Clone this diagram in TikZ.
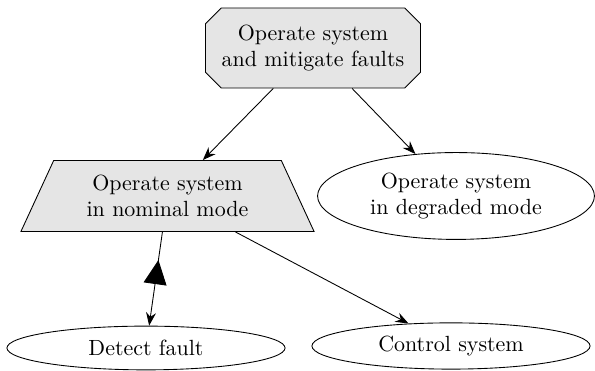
\documentclass[tikz,border=0pt]{standalone}
\usepackage{tikz}
\usetikzlibrary{shapes.misc,shapes.geometric,arrows.meta,decorations.markings}

\begin{document}
\begin{tikzpicture}
 	\tikzstyle{task}=[draw=black, fill=gray!20, align=center, font=\normalsize]
 	\tikzstyle{usecase}=[ellipse, draw=black, align=center, inner sep=0pt]
 	\tikzstyle{connect}=[-{Stealth[length=6pt,width=4.5pt,inset=2pt]}]
 	\tikzstyle{include}=[postaction=decorate, decoration={markings, mark=at position 0.3 with {\arrowreversed{Triangle[length=11pt,width=10.5pt]}}}]
 	\useasboundingbox (0,0) rectangle (9.52,5.936);
 	\node[task, chamfered rectangle, chamfered rectangle xsep=3.6pt, chamfered rectangle ysep=3.6pt, minimum width=3.44cm, minimum height=1.28cm] (mission) at (5.008,5.168) {Operate system\\and mitigate faults};
 	\node[task, trapezium, trapezium left angle=60, trapezium right angle=60, trapezium stretches body, minimum width=4.69cm, minimum height=1.136cm] (nominal) at (2.68,2.8) {Operate system\\in nominal mode};
 	\node[usecase, minimum width=4.43cm, minimum height=1.39cm] (degraded) at (7.296,2.8) {Operate system\\in degraded mode};
 	\node[usecase, minimum width=4.45cm, minimum height=0.70cm] (detect) at (2.336,0.368) {Detect fault};
 	\node[usecase, minimum width=4.45cm, minimum height=0.74cm] (control) at (7.216,0.4) {Control system};
 	\path (mission) edge [connect] (nominal)
 	(mission) edge [connect] (degraded)
 	(nominal) edge [connect, include] (detect)
 	(nominal) edge [connect] (control);
\end{tikzpicture}
\end{document}
